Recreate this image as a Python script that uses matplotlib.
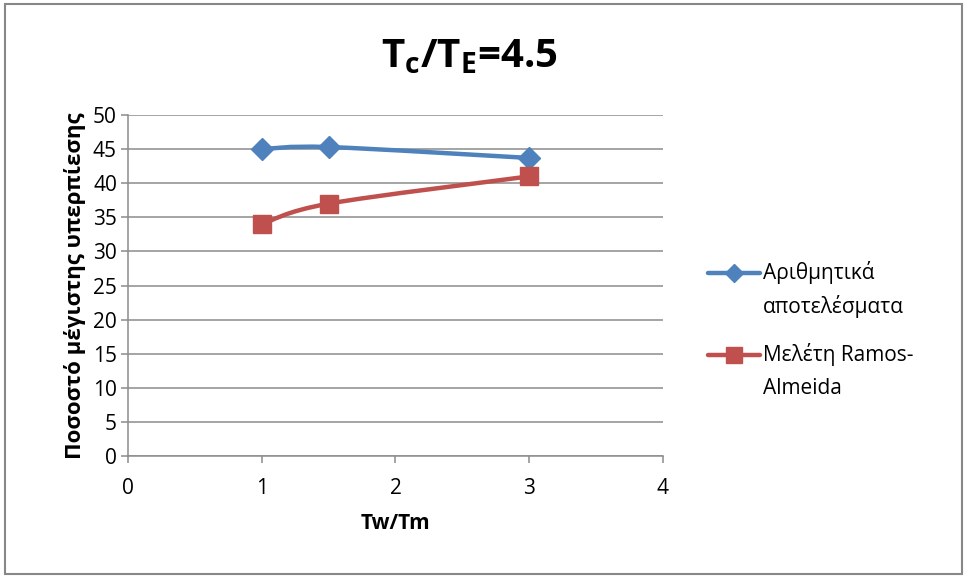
import matplotlib
matplotlib.use("Agg")
import matplotlib.pyplot as plt
from matplotlib.path import Path
from matplotlib.patches import PathPatch, Rectangle
from matplotlib.lines import Line2D
import numpy as np

plt.rcParams['font.family'] = ['Open Sans', 'DejaVu Sans']
plt.rcParams['mathtext.fontset'] = 'custom'
plt.rcParams['mathtext.bf'] = 'Open Sans:bold'
plt.rcParams['mathtext.rm'] = 'Open Sans'

# data
tw_tm = [1, 1.5, 3]
arithmetic = [45.0, 45.3, 43.7]
ramos_almeida = [34.0, 37.0, 41.0]
series_labels = [["Αριθμητικά", "αποτελέσματα"], ["Μελέτη Ramos-", "Almeida"]]
x_ticks = [0, 1, 2, 3, 4]
y_ticks = list(range(0, 55, 5))

BLUE = "#4F81BD"
RED = "#C0504D"
GRID = "#8C8C8C"
W, H = 965, 576


def smooth_path(xs, ys):
    """Catmull-Rom style cubic Bezier through the points (Excel smoothed line)."""
    pts = np.column_stack([xs, ys]).astype(float)
    n = len(pts)
    verts = [pts[0]]
    codes = [Path.MOVETO]
    for i in range(n - 1):
        p0 = pts[i - 1] if i > 0 else pts[i]
        p1 = pts[i]
        p2 = pts[i + 1]
        p3 = pts[i + 2] if i + 2 < n else pts[i + 1]
        c1 = p1 + (p2 - p0) / 6.0
        c2 = p2 - (p3 - p1) / 6.0
        verts += [c1, c2, p2]
        codes += [Path.CURVE4] * 3
    return Path(verts, codes)


fig = plt.figure(figsize=(W / 100, H / 100), dpi=100)
fig.patch.set_facecolor("white")

# chart area border
fig.add_artist(Rectangle((5 / W, 2 / H), 1 - 8 / W, 1 - 6 / H,
                         transform=fig.transFigure, fill=False,
                         edgecolor="#878787", linewidth=1.5))

ax = fig.add_axes([128 / W, 120 / H, 535 / W, 341 / H])
ax.set_xlim(0, 4)
ax.set_ylim(0, 50)
ax.set_xticks(x_ticks)
ax.set_yticks(y_ticks)
ax.yaxis.grid(True, color=GRID, linewidth=1.1)
ax.set_axisbelow(True)
for side in ("top", "right"):
    ax.spines[side].set_visible(False)
for side in ("left", "bottom"):
    ax.spines[side].set_color(GRID)
    ax.spines[side].set_linewidth(1.1)
ax.tick_params(axis="both", colors=GRID, labelcolor="black", labelsize=15,
               length=5, width=1.1, direction="out")
ax.tick_params(axis="x", pad=11)
ax.tick_params(axis="y", pad=3)

styles = [(BLUE, "D", 11, 9), (RED, "s", 13, 11)]
for ys, (color, marker, ms, _) in zip((arithmetic, ramos_almeida), styles):
    ax.add_patch(PathPatch(smooth_path(tw_tm, ys), facecolor="none",
                           edgecolor=color, linewidth=3.2, capstyle="round",
                           zorder=3))
    ax.plot(tw_tm, ys, linestyle="none", marker=marker, markersize=ms,
            color=color, zorder=4)

ax.set_xlabel("Tw/Tm", fontsize=15, fontweight="bold", labelpad=10)
ax.set_ylabel("Ποσοστό μέγιστης υπερπίεσης", fontsize=16, fontweight="bold",
              labelpad=5)

fig.text(469 / W, 1 - 57 / H, r"$\mathbf{T_c/T_E}$" + "=4.5",
         fontsize=29, fontweight="bold", ha="center", va="center")

# legend: handle aligned with the first line of each two-line entry
entry_tops = [273, 355]
line_gap = 33
for (color, marker, _, lms), lines, y0 in zip(styles, series_labels, entry_tops):
    fig.add_artist(Line2D([708 / W, 760 / W], [1 - y0 / H, 1 - y0 / H],
                          transform=fig.transFigure, color=color,
                          linewidth=3.2, solid_capstyle="round"))
    fig.add_artist(Line2D([734 / W], [1 - y0 / H], transform=fig.transFigure,
                          color=color, marker=marker, markersize=lms,
                          linestyle="none"))
    for k, txt in enumerate(lines):
        fig.text(763 / W, 1 - (y0 + k * line_gap) / H, txt, fontsize=15,
                 ha="left", va="center")

fig.savefig("out.png", dpi=100, facecolor="white")
